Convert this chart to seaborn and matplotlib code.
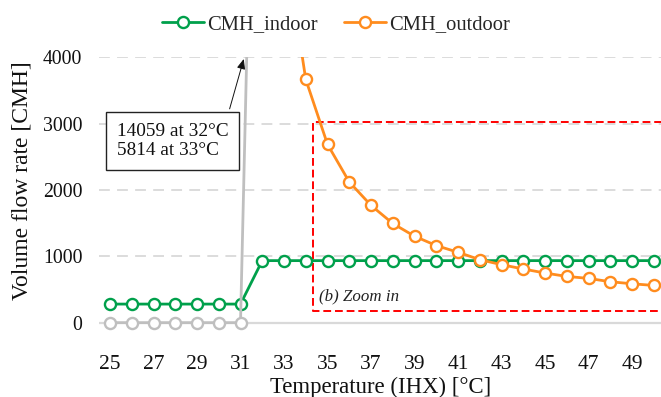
import matplotlib
matplotlib.use("Agg")
import matplotlib.pyplot as plt
import numpy as np
import pandas as pd
import seaborn as sns

# Temperature of the internal heat exchanger (IHX), degC
temperature = [25, 26, 27, 28, 29, 30, 31, 32, 33, 34, 35, 36, 37,
               38, 39, 40, 41, 42, 43, 44, 45, 46, 47, 48, 49, 50]
# Volume flow rates [CMH]
cmh_indoor = [280, 280, 280, 280, 280, 280, 280, 935, 935, 935, 935, 935, 935,
              935, 935, 935, 935, 935, 935, 935, 935, 935, 935, 935, 935, 935]
cmh_outdoor = [0, 0, 0, 0, 0, 0, 0, 14059, 5814, 3667, 2688, 2121, 1768,
               1495, 1303, 1162, 1061, 950, 874, 809, 748, 697, 667, 617, 586, 561]
x_ticks = [25, 27, 29, 31, 33, 35, 37, 39, 41, 43, 45, 47, 49]
y_ticks = [0, 1000, 2000, 3000, 4000]
note_lines = ["14059 at 32°C", "5814 at 33°C"]

GREEN = "#00A04B"
ORANGE = "#FF8C1E"
GRAY = "#BFBFBF"

sns.set_style("white")
plt.rcParams["font.family"] = ["Liberation Serif", "DejaVu Serif"]

df = pd.DataFrame({"T": temperature, "indoor": cmh_indoor, "outdoor": cmh_outdoor})
n_off = 7  # outdoor fan not running up to 31 degC

fig = plt.figure(figsize=(6.61, 3.97), dpi=100)
ax = fig.add_axes([99 / 661, 1 - 332.6 / 397, 562 / 661, 275.3 / 397])

line_kw = dict(marker="o", markersize=8, markerfacecolor="white",
               markeredgewidth=1.7, linewidth=2.0, legend=False)

sns.lineplot(data=df, x="T", y="indoor", color=GREEN, markeredgecolor=GREEN,
             label="CMH_indoor", ax=ax, zorder=3, **line_kw)
sns.lineplot(data=df.iloc[:n_off + 1], x="T", y="outdoor", color=GRAY,
             markeredgecolor=GRAY, markevery=list(range(n_off)),
             label="_nolegend_", ax=ax, zorder=4, **line_kw)
sns.lineplot(data=df.iloc[n_off:], x="T", y="outdoor", color=ORANGE,
             markeredgecolor=ORANGE, label="CMH_outdoor", ax=ax, zorder=4, **line_kw)

ax.set_xlim(25 - 11 / 21.75, 25 + 551 / 21.75)
ax.set_ylim(-150, 4000)
ax.set_xticks(x_ticks)
ax.set_yticks(y_ticks)
ax.tick_params(axis="x", length=0, pad=16, labelsize=15.5, colors="#111111")
ax.tick_params(axis="y", length=0, pad=12, labelsize=14.2, colors="#111111")
ax.set_xlabel("")
ax.set_ylabel("")
for s in ax.spines.values():
    s.set_visible(False)

# horizontal gridlines (dashed) and solid baseline at zero
for yv in y_ticks[1:]:
    ax.axhline(yv, color="#D9D9D9", linewidth=1.3, linestyle=(0, (6, 4)), zorder=1)
ax.axhline(0, color="#D9D9D9", linewidth=1.6, zorder=1)

# zoom-in region (open on the right, runs past the plot edge)
zx0, zx1, zy0, zy1 = 34.33, 55, 182, 3025
ax.plot([zx1, zx0, zx0, zx1], [zy1, zy1, zy0, zy0], color="#FF0000",
        linewidth=1.4, linestyle=(0, (4, 2)), zorder=2)
ax.text(34.6, 390, "(b) Zoom in", fontsize=12.2, fontstyle="italic",
        ha="left", va="center", color="#222222", zorder=5)

# note on off-scale outdoor values
ax.text(27.88, 2738, "\n".join(note_lines), fontsize=13.9, ha="center",
        va="center", multialignment="left", color="#111111", zorder=6,
        bbox=dict(boxstyle="square,pad=0.55", facecolor="white",
                  edgecolor="#222222", linewidth=1.0))
ax.annotate("", xy=(31.15, 3975), xytext=(30.5, 3223),
            arrowprops=dict(arrowstyle="-|>,head_length=0.6,head_width=0.25",
                            color="#111111", linewidth=0.7, shrinkA=0, shrinkB=0),
            zorder=6)

handles, labels = ax.get_legend_handles_labels()
fig.legend(handles, labels, loc="center", bbox_to_anchor=(336 / 661, 1 - 24 / 397),
           ncol=2, frameon=False, fontsize=14.8, handlelength=2.05,
           handletextpad=0.15, columnspacing=1.3, borderaxespad=0)

fig.text(380.5 / 661, 1 - 387 / 397, "Temperature (IHX) [°C]", fontsize=16.4,
         ha="center", va="center", color="#111111")
fig.text(22 / 661, 1 - 181 / 397, "Volume flow rate [CMH]", fontsize=17,
         ha="center", va="center", rotation=90, color="#111111")

fig.savefig("out.png", dpi=100)
